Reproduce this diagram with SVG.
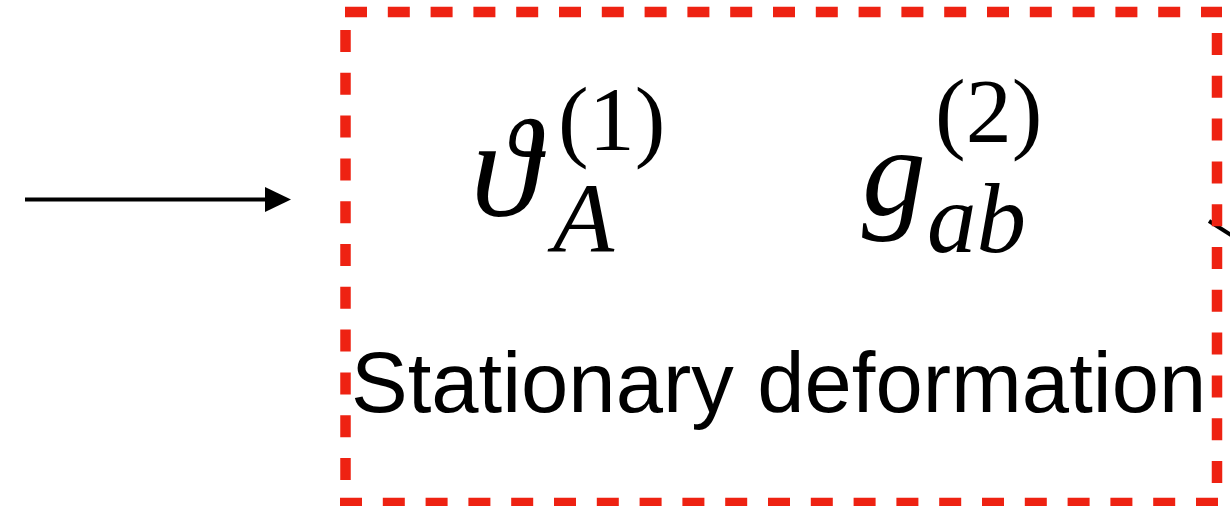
<svg xmlns="http://www.w3.org/2000/svg" width="1230" height="506" viewBox="0 0 1230 506">
<style>
.box{stroke:#ee2212;stroke-width:10.5;fill:none;stroke-dasharray:22 20.8}
.conn{stroke:#000;stroke-width:4;fill:none}
.mi{font-family:"Liberation Serif","DejaVu Serif",serif;font-style:italic;fill:#000}
.mn{font-family:"Liberation Serif","DejaVu Serif",serif;fill:#000}
.lbl{font-family:"Liberation Sans",Arial,sans-serif;font-size:85px;fill:#000}
</style>
<rect width="1230" height="506" fill="#fff"/>
<g id="connectors">
<line class="conn" x1="25" y1="199.5" x2="266" y2="199.5"/>
<polygon points="265,187 291,199.5 265,212" fill="#000"/>
<line class="conn" x1="1209" y1="221" x2="1234" y2="237"/>
</g>
<g id="stationary-deformation">
<line class="box" x1="345" y1="12" x2="1222" y2="12"/>
<line class="box" x1="345.5" y1="30" x2="345.5" y2="506"/>
<line class="box" x1="1217" y1="33" x2="1217" y2="500"/>
<line class="box" x1="340" y1="503" x2="1222" y2="503"/>
<text class="mi" x="471" y="216" font-size="140">ϑ</text>
<text class="mn" x="558" y="150" font-size="92">(1)</text>
<text class="mi" x="553" y="252" font-size="100">A</text>
<text class="mi" x="862" y="215" font-size="128">g</text>
<text class="mn" x="935" y="142" font-size="92">(2)</text>
<text class="mi" x="927" y="252" font-size="99">ab</text>
<text class="lbl" x="351" y="412">Stationary deformation</text>
</g>
</svg>
